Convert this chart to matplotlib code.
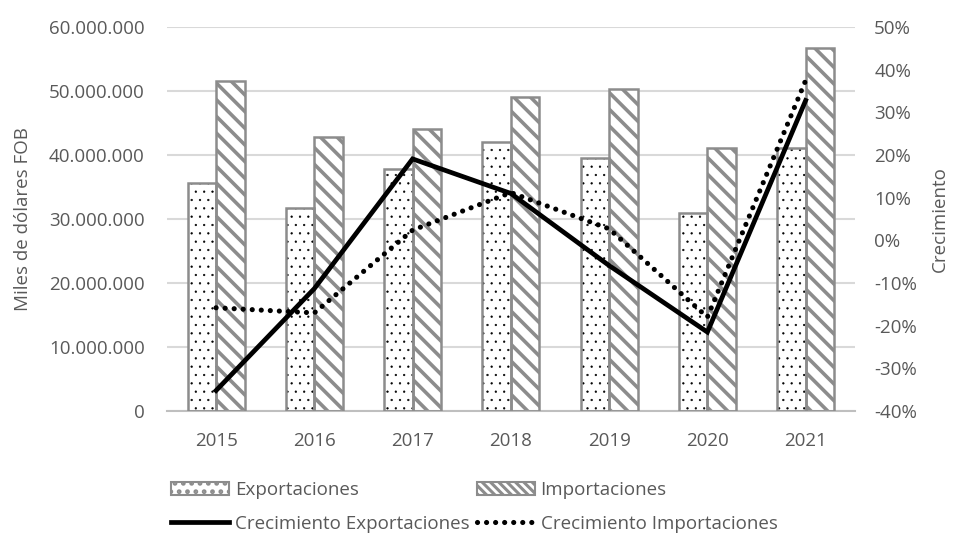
import numpy as np
import matplotlib.pyplot as plt
from matplotlib.lines import Line2D
from matplotlib.patches import Patch

plt.rcParams['font.family'] = ['Open Sans', 'DejaVu Sans']

years = ["2015", "2016", "2017", "2018", "2019", "2020", "2021"]
exportaciones = [35.6e6, 31.7e6, 37.8e6, 42.0e6, 39.5e6, 31.0e6, 41.1e6]
importaciones = [51.6e6, 42.9e6, 44.0e6, 49.0e6, 50.3e6, 41.1e6, 56.7e6]
crec_exp = [-0.352, -0.113, 0.191, 0.110, -0.059, -0.215, 0.328]
crec_imp = [-0.158, -0.170, 0.024, 0.112, 0.027, -0.180, 0.375]

left_ticks = [0, 10e6, 20e6, 30e6, 40e6, 50e6, 60e6]
left_labels = ["0", "10.000.000", "20.000.000", "30.000.000",
               "40.000.000", "50.000.000", "60.000.000"]
right_ticks = [-0.4, -0.3, -0.2, -0.1, 0.0, 0.1, 0.2, 0.3, 0.4, 0.5]

TXT = "#595959"
EDGE = "#8c8c8c"
FS = 13.5
DOTS = (0, (0.01, 1.75))

fig = plt.figure(figsize=(9.54, 5.42), dpi=100)
ax = fig.add_axes([0.175, 0.2417, 0.721, 0.7083])
x = np.arange(len(years))
w = 0.29

# bars: hatch drawn first, then outline in gray
plt.rcParams['hatch.linewidth'] = 0.4
ax.bar(x - w / 2, exportaciones, w, color="white", edgecolor="black",
       hatch="..", linewidth=0, zorder=2)
ax.bar(x - w / 2, exportaciones, w, fill=False, edgecolor=EDGE,
       linewidth=1.8, zorder=3)
plt.rcParams['hatch.linewidth'] = 2.6
ax.bar(x + w / 2, importaciones, w, color="white", edgecolor=EDGE,
       hatch="\\\\", linewidth=0, zorder=2)
ax.bar(x + w / 2, importaciones, w, fill=False, edgecolor=EDGE,
       linewidth=1.8, zorder=3)

ax.set_xlim(-0.5, len(years) - 0.5)
ax.set_ylim(0, 60e6)
ax.set_yticks(left_ticks)
ax.set_yticklabels(left_labels)
ax.set_xticks(x)
ax.set_xticklabels(years)
ax.grid(axis="y", color="#d9d9d9", linewidth=1.5, zorder=0)
ax.set_axisbelow(True)
for s in ["top", "right", "left"]:
    ax.spines[s].set_visible(False)
ax.spines["bottom"].set_color("#bfbfbf")
ax.spines["bottom"].set_linewidth(1.5)
ax.tick_params(axis="both", length=0, labelsize=FS, colors=TXT)
ax.tick_params(axis="y", pad=16)
ax.tick_params(axis="x", pad=15)
ax.set_ylabel("Miles de dólares FOB", fontsize=FS, color=TXT, labelpad=12)

ax2 = ax.twinx()
ax2.plot(x, crec_exp, color="black", linewidth=3.4, solid_joinstyle="miter", zorder=5)
ax2.plot(x, crec_imp, color="black", linewidth=3.7, linestyle=DOTS,
         dash_capstyle="round", zorder=5)
ax2.set_ylim(-0.4, 0.5)
ax2.set_yticks(right_ticks)
ax2.set_yticklabels([f"{round(t * 100)}%" for t in right_ticks])
for s in ax2.spines.values():
    s.set_visible(False)
ax2.tick_params(axis="y", length=0, labelsize=FS, colors=TXT, pad=14)
ax2.set_ylabel("Crecimiento", fontsize=FS, color=TXT, labelpad=10)

plt.rcParams['hatch.linewidth'] = 0.4
h_exp = Patch(facecolor="white", edgecolor=EDGE, hatch="..", linewidth=1.5)
plt.rcParams['hatch.linewidth'] = 2.2
h_imp = Patch(facecolor="white", edgecolor=EDGE, hatch="\\\\\\\\", linewidth=1.5)
h_cexp = Line2D([], [], color="black", linewidth=3.4)
h_cimp = Line2D([], [], color="black", linewidth=3.7, linestyle=DOTS,
                dash_capstyle="round")
leg = fig.legend([h_exp, h_cexp, h_imp, h_cimp],
                 ["Exportaciones", "Crecimiento Exportaciones",
                  "Importaciones", "Crecimiento Importaciones"],
                 ncol=2, loc="center", bbox_to_anchor=(0.497, 0.065),
                 frameon=False, fontsize=FS, handlelength=3.1,
                 handletextpad=0.3, columnspacing=0.4, labelspacing=0.85)
for t in leg.get_texts():
    t.set_color(TXT)

fig.savefig("out.png", dpi=100)
